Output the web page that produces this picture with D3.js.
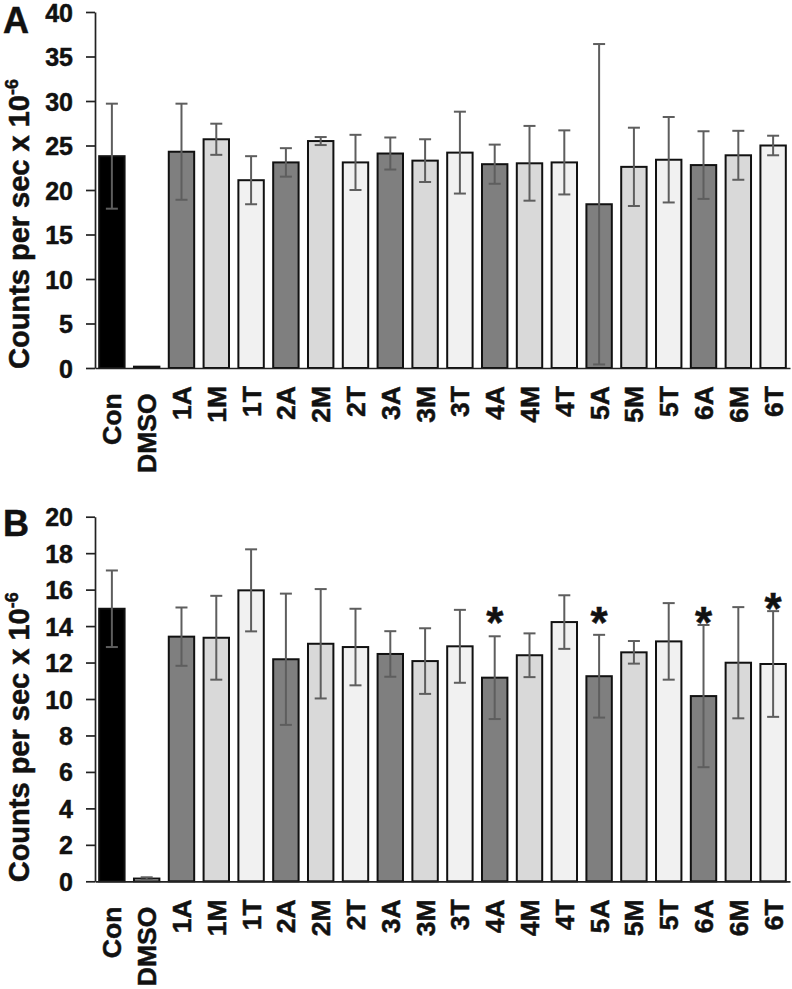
<!DOCTYPE html>
<html>
<head>
<meta charset="utf-8">
<script src="https://cdn.jsdelivr.net/npm/d3@7/dist/d3.min.js"></script>
<style>
  html, body { margin: 0; padding: 0; background: #fff; }
  svg { display: block; font-family: "Liberation Sans", Arial, Helvetica, sans-serif; font-weight: bold; }
  svg text { stroke: #111; stroke-width: 0.5px; paint-order: stroke; }
</style>
</head>
<body>
<svg id="chart" width="792" height="989"></svg>
<script>
// ---- data ----
const categories = ["Con","DMSO","1A","1M","1T","2A","2M","2T","3A","3M","3T","4A","4M","4T","5A","5M","5T","6A","6M","6T"];
const tickLabels = ["Con\u00A0","DMSO\u00A0","1A","1M","1T","2A","2M","2T","3A","3M","3T","4A","4M","4T","5A","5M","5T","6A","6M","6T"];

const valuesA = [23.8,0.15,24.3,25.7,21.1,23.1,25.5,23.1,24.1,23.3,24.2,22.9,23.0,23.1,18.4,22.6,23.4,22.8,23.9,25.0];
const errorsA = [5.9,0,5.4,1.75,2.7,1.6,0.45,3.1,1.8,2.4,4.6,2.2,4.2,3.6,18.0,4.4,4.8,3.8,2.75,1.1];
const ticksA = [0,5,10,15,20,25,30,35,40];

const valuesB = [14.95,0.15,13.42,13.36,15.96,12.18,13.03,12.85,12.47,12.08,12.89,11.17,12.4,14.22,11.25,12.56,13.16,10.16,11.99,11.92];
const errorsB = [2.1,0.07,1.6,2.3,2.25,3.6,3.0,2.1,1.25,1.8,2.0,2.27,1.2,1.47,2.27,0.62,2.1,3.9,3.05,2.9];
const ticksB = [0,2,4,6,8,10,12,14,16,18,20];

const starCategories = ["4A","5A","6A","6T"];
const starValues = [14.77,14.72,14.77,15.54];

function fillFor(c) {
  if (c === "Con") return "#000000";
  if (c === "DMSO") return "#ffffff";
  if (c.endsWith("A")) return "#7f7f7f";
  if (c.endsWith("M")) return "#d9d9d9";
  return "#f1f1f1";
}

const FONT = "'Liberation Sans', Arial, Helvetica, sans-serif";
const svg = d3.select("#chart");

function panel(opts) {
  const g = svg.append("g");
  const x = d3.scaleBand().domain(categories).range([95, 790]).paddingInner(0.27).paddingOuter(0.12);
  const y = d3.scaleLinear().domain([0, opts.max]).range([opts.y0, opts.y1]);

  // y axis
  const ya = g.append("g").attr("transform", "translate(95,0)")
    .call(d3.axisLeft(y).tickValues(opts.ticks).tickSize(9).tickSizeOuter(0).tickPadding(13));
  ya.select(".domain").attr("stroke", "#222").attr("stroke-width", 1.7);
  ya.selectAll(".tick line").attr("stroke", "#222").attr("stroke-width", 1.7);
  ya.selectAll(".tick text").attr("fill", "#111").attr("dy", "0.36em")
    .style("font-size", "25px").style("font-weight", "bold").style("font-family", FONT);

  // bars
  const data = categories.map((c, i) => ({ c, v: opts.values[i], e: opts.errors[i] }));
  g.append("g").selectAll("rect").data(data).join("rect")
    .attr("x", d => x(d.c))
    .attr("width", x.bandwidth())
    .attr("y", d => y(d.v))
    .attr("height", d => y(0) - y(d.v))
    .attr("fill", d => fillFor(d.c))
    .attr("stroke", "#111")
    .attr("stroke-width", 2);

  // error bars
  const eg = g.append("g").attr("stroke", "#5e5e5e").attr("stroke-width", 2).attr("fill", "none");
  const withErr = data.filter(d => d.e > 0);
  const cx = d => x(d.c) + x.bandwidth() / 2;
  eg.selectAll("line.v").data(withErr).join("line").attr("class", "v")
    .attr("x1", cx).attr("x2", cx)
    .attr("y1", d => y(d.v + d.e)).attr("y2", d => y(Math.max(0, d.v - d.e)));
  eg.selectAll("line.t").data(withErr).join("line").attr("class", "t")
    .attr("x1", d => cx(d) - 6).attr("x2", d => cx(d) + 6)
    .attr("y1", d => y(d.v + d.e)).attr("y2", d => y(d.v + d.e));
  eg.selectAll("line.b").data(withErr).join("line").attr("class", "b")
    .attr("x1", d => cx(d) - 6).attr("x2", d => cx(d) + 6)
    .attr("y1", d => y(Math.max(0, d.v - d.e))).attr("y2", d => y(Math.max(0, d.v - d.e)));

  // x axis
  const xa = g.append("g").attr("transform", `translate(0,${opts.y0})`)
    .call(d3.axisBottom(x).tickSize(0).tickSizeOuter(0).tickFormat((d, i) => tickLabels[i]));
  xa.select(".domain").attr("stroke", "#222").attr("stroke-width", 1.7);
  xa.selectAll(".tick text")
    .attr("transform", "rotate(-90)")
    .attr("x", -18).attr("y", 0).attr("dy", "0.36em")
    .attr("text-anchor", "end")
    .attr("fill", "#111")
    .style("font-size", "26.5px").style("font-weight", "bold").style("font-family", FONT)
    .style("white-space", "pre");

  // y title
  const t = g.append("text")
    .attr("transform", `translate(29,${opts.y0 + 1}) rotate(-90)`)
    .attr("text-anchor", "start")
    .attr("fill", "#111")
    .style("font-size", "29px");
  t.append("tspan").text("Counts per sec x 10");
  t.append("tspan").attr("dy", -11).style("font-size", "18px").text("-6");

  // panel letter
  g.append("text").attr("x", 3).attr("y", opts.letterY).attr("fill", "#111")
    .style("font-size", "36px").text(opts.letter);

  // stars
  if (opts.stars) {
    g.append("g").selectAll("text").data(opts.stars).join("text")
      .attr("x", d => x(d.c) + x.bandwidth() / 2)
      .attr("y", d => y(d.v))
      .attr("dy", "0.58em")
      .attr("text-anchor", "middle")
      .attr("fill", "#111")
      .style("font-size", "44px")
      .text("*");
  }
}

panel({ max: 40, y0: 368, y1: 12, ticks: ticksA, values: valuesA, errors: errorsA, letter: "A", letterY: 33 });
panel({ max: 20, y0: 881.3, y1: 516.7, ticks: ticksB, values: valuesB, errors: errorsB, letter: "B", letterY: 536,
        stars: starCategories.map((c, i) => ({ c, v: starValues[i] })) });
</script>
</body>
</html>
